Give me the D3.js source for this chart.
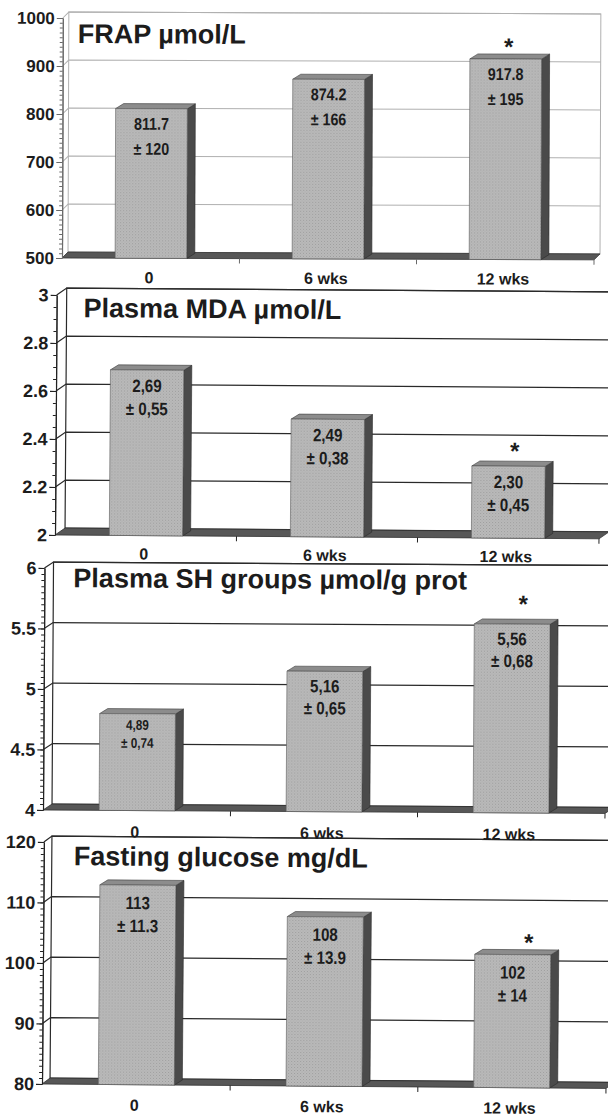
<!DOCTYPE html>
<html>
<head>
<meta charset="utf-8">
<script src="https://cdn.jsdelivr.net/npm/d3@7"></script>
<style>
body { margin: 0; background: #fff; }
svg text { font-family: "Liberation Sans", Arial, sans-serif; font-weight: bold; fill: #1c1c1c; }
</style>
</head>
<body>
<script>
// categories shared by all four panels
var categories = ["0", "6 wks", "12 wks"];
var significant = [false, false, true];

var frapTitle = "FRAP µmol/L";
var frapValues = [811.7, 874.2, 917.8];
var frapMeans = ["811.7", "874.2", "917.8"];
var frapSD = ["± 120", "± 166", "± 195"];
var frapTicks = [500, 600, 700, 800, 900, 1000];

var mdaTitle = "Plasma MDA µmol/L";
var mdaValues = [2.69, 2.49, 2.30];
var mdaMeans = ["2,69", "2,49", "2,30"];
var mdaSD = ["± 0,55", "± 0,38", "± 0,45"];
var mdaTicks = [2, 2.2, 2.4, 2.6, 2.8, 3];

var shTitle = "Plasma SH groups µmol/g prot";
var shValues = [4.8, 5.16, 5.56];
var shMeans = ["4,89", "5,16", "5,56"];
var shSD = ["± 0,74", "± 0,65", "± 0,68"];
var shTicks = [4, 4.5, 5, 5.5, 6];

var glucoseTitle = "Fasting glucose mg/dL";
var glucoseValues = [113, 108, 102];
var glucoseMeans = ["113", "108", "102"];
var glucoseSD = ["± 11.3", "± 13.9", "± 14"];
var glucoseTicks = [80, 90, 100, 110, 120];

var width = 608, height = 1117;

var svg = d3.select("body").append("svg")
            .attr("width", width)
            .attr("height", height);

// halftone look of the scanned bars
var defs = svg.append("defs");
var pat = defs.append("pattern")
              .attr("id", "dots")
              .attr("width", 3)
              .attr("height", 3)
              .attr("patternUnits", "userSpaceOnUse");
pat.append("rect").attr("width", 3).attr("height", 3).attr("fill", "#bababa");
pat.append("rect").attr("width", 1).attr("height", 1).attr("fill", "#9c9c9c");
pat.append("rect").attr("x", 1.5).attr("y", 1.5).attr("width", 1).attr("height", 1).attr("fill", "#a8a8a8");

// panels first, category labels on top so the next wall does not hide them
var panelLayer = svg.append("g");
var labelLayer = svg.append("g");

// layout of each panel (pixels), kept apart from the data
var panels = [
  {title: frapTitle, values: frapValues, means: frapMeans, sd: frapSD, ticks: frapTicks, minor: 10,
   yTop: 18, yBot: 258, axisX: 62, xEnd: 594, dx: 6, dy: 6, wallRight: 600, rot: 0.2,
   titleX: 77, titleY: 43, catY: 283, light: true, line1: 21, line2: 46, labelSize: [17, 17, 17],
   starDx: 3, starDy: -17, tickSize: 17},
  {title: mdaTitle, values: mdaValues, means: mdaMeans, sd: mdaSD, ticks: mdaTicks, minor: 0.05,
   yTop: 295, yBot: 535, axisX: 55, xEnd: 599, dx: 10, dy: 7, wallRight: 620, rot: 0.4,
   titleX: 82, titleY: 317, catY: 559, light: false, line1: 22, line2: 45, labelSize: [18, 18, 18],
   starDx: 6, starDy: -20, tickSize: 18},
  {title: shTitle, values: shValues, means: shMeans, sd: shSD, ticks: shTicks, minor: 0.05,
   yTop: 568, yBot: 810, axisX: 43, xEnd: 605, dx: 9, dy: 6, wallRight: 620, rot: 0.35,
   titleX: 72, titleY: 587, catY: 837, light: false, line1: 21, line2: 43, labelSize: [14, 18, 18],
   starDx: 11, starDy: -25, tickSize: 18},
  {title: glucoseTitle, values: glucoseValues, means: glucoseMeans, sd: glucoseSD, ticks: glucoseTicks, minor: 1,
   yTop: 842, yBot: 1084, axisX: 42, xEnd: 606, dx: 8, dy: 6, wallRight: 620, rot: 0.45,
   titleX: 72, titleY: 865, catY: 1110, light: false, line1: 24, line2: 47, labelSize: [18, 18, 18],
   starDx: 16, starDy: -17, tickSize: 18}
];

var bdx = 8, bdy = 5;

function drawPanel(p)
{
  var turn = "rotate(" + p.rot + "," + p.axisX + "," + p.yBot + ")";
  var g = panelLayer.append("g").attr("transform", turn);

  var lo = p.ticks[0], hi = p.ticks[p.ticks.length - 1];
  var y = d3.scaleLinear().domain([lo, hi]).range([p.yBot, p.yTop]);
  var x = d3.scaleBand().domain(categories)
            .range([p.axisX, p.xEnd])
            .paddingInner(0.595)
            .paddingOuter(0.3);
  var bw = x.bandwidth();
  var gap = x.step() - bw;

  var wx = p.axisX + p.dx;
  var gridColor = p.light ? "#b0b0b0" : "#2a2a2a";
  var axisColor = p.light ? "#6a6a6a" : "#222";

  // back wall
  g.append("rect")
   .attr("x", wx)
   .attr("y", y(hi) - p.dy)
   .attr("width", p.wallRight - wx)
   .attr("height", p.yBot - p.yTop)
   .attr("fill", "#fff")
   .attr("stroke", gridColor)
   .attr("stroke-width", p.light ? 1 : 1.2);

  // gridlines with the small diagonal from the axis to the wall
  g.selectAll(".grid").data(p.ticks.slice(1))
   .enter().append("path")
   .attr("d", function(t) {
      return "M" + p.axisX + "," + y(t) + "L" + wx + "," + (y(t) - p.dy) + "L" + p.wallRight + "," + (y(t) - p.dy);
   })
   .attr("fill", "none")
   .attr("stroke", gridColor)
   .attr("stroke-width", p.light ? 1 : 1.3);

  // floor
  g.append("path")
   .attr("d", "M" + p.axisX + "," + p.yBot + "L" + p.xEnd + "," + p.yBot +
              "L" + (p.xEnd + p.dx) + "," + (p.yBot - p.dy) + "L" + wx + "," + (p.yBot - p.dy) + "Z")
   .attr("fill", "#575757")
   .attr("stroke", "#333")
   .attr("stroke-width", 0.8);

  var data = categories.map(function(c, i) {
    return {cat: c, v: p.values[i], mean: p.means[i], sd: p.sd[i], star: significant[i], size: p.labelSize[i]};
  });

  var bars = g.selectAll(".bar").data(data).enter().append("g");

  // right side face
  bars.append("path")
      .attr("d", function(d) {
        var x1 = x(d.cat) + bw, t = y(d.v);
        return "M" + x1 + "," + t + "L" + (x1 + bdx) + "," + (t - bdy) +
               "L" + (x1 + bdx) + "," + (p.yBot - bdy) + "L" + x1 + "," + p.yBot + "Z";
      })
      .attr("fill", "#4a4a4a")
      .attr("stroke", "#2a2a2a")
      .attr("stroke-width", 0.6);

  // top face
  bars.append("path")
      .attr("d", function(d) {
        var x0 = x(d.cat), t = y(d.v);
        return "M" + x0 + "," + t + "L" + (x0 + bdx) + "," + (t - bdy) +
               "L" + (x0 + bw + bdx) + "," + (t - bdy) + "L" + (x0 + bw) + "," + t + "Z";
      })
      .attr("fill", "#8c8c8c")
      .attr("stroke", "#3a3a3a")
      .attr("stroke-width", 0.6);

  // front face
  bars.append("rect")
      .attr("x", function(d) { return x(d.cat); })
      .attr("y", function(d) { return y(d.v); })
      .attr("width", bw)
      .attr("height", function(d) { return p.yBot - y(d.v); })
      .attr("fill", "url(#dots)")
      .attr("stroke", "#5a5a5a")
      .attr("stroke-width", 0.6);

  // mean and sd printed on the bar, narrow type
  bars.append("text")
      .attr("transform", function(d) {
        return "translate(" + (x(d.cat) + bw / 2) + "," + (y(d.v) + (d.size < 16 ? p.line1 - 5 : p.line1)) + ") scale(0.84,1)";
      })
      .attr("text-anchor", "middle")
      .style("font-size", function(d) { return d.size + "px"; })
      .text(function(d) { return d.mean; });

  bars.append("text")
      .attr("transform", function(d) {
        return "translate(" + (x(d.cat) + bw / 2) + "," + (y(d.v) + (d.size < 16 ? p.line2 - 9 : p.line2)) + ") scale(0.84,1)";
      })
      .attr("text-anchor", "middle")
      .style("font-size", function(d) { return d.size + "px"; })
      .text(function(d) { return d.sd; });

  // significance star
  bars.filter(function(d) { return d.star; })
      .append("text")
      .attr("x", function(d) { return x(d.cat) + bw / 2 + p.starDx; })
      .attr("y", function(d) { return y(d.v) + p.starDy + 13; })
      .attr("text-anchor", "middle")
      .style("font-size", "24px")
      .text("*");

  // y axis: minor ticks then major ticks with labels
  var minorTicks = d3.range(lo, hi + p.minor / 2, p.minor);
  g.append("g")
   .attr("transform", "translate(" + p.axisX + ",0)")
   .call(d3.axisLeft(y).tickValues(minorTicks).tickSize(3).tickSizeOuter(0).tickFormat(""))
   .call(function(a) { a.selectAll("line,path").attr("stroke", axisColor); });

  var yAxis = g.append("g")
   .attr("transform", "translate(" + p.axisX + ",0)")
   .call(d3.axisLeft(y).tickValues(p.ticks).tickSize(6).tickSizeOuter(0).tickPadding(2).tickFormat(d3.format("")));
  yAxis.selectAll("line,path").attr("stroke", axisColor).attr("stroke-width", 1.2);
  yAxis.selectAll("text")
       .attr("fill", "#1c1c1c")
       .style("font-family", "'Liberation Sans', Arial, sans-serif")
       .style("font-weight", "bold")
       .style("font-size", p.tickSize + "px");

  // category boundary ticks under the floor
  var bounds = categories.map(function(c) { return x(c) + bw + gap / 2; });
  bounds[bounds.length - 1] = p.xEnd;
  g.selectAll(".ctick").data(bounds).enter().append("line")
   .attr("x1", function(b) { return b; })
   .attr("x2", function(b) { return b; })
   .attr("y1", p.yBot)
   .attr("y2", p.yBot + 5)
   .attr("stroke", axisColor);

  // panel title
  g.append("text")
   .attr("x", p.titleX)
   .attr("y", p.titleY)
   .style("font-size", "27px")
   .text(p.title);

  // category labels
  labelLayer.append("g").attr("transform", turn)
   .selectAll("text").data(categories).enter().append("text")
   .attr("x", function(c) { return x(c) + bw / 2 - 2; })
   .attr("y", p.catY)
   .attr("text-anchor", "middle")
   .style("font-size", "16px")
   .text(function(c) { return c; });
}

panels.forEach(drawPanel);
</script>
</body>
</html>
